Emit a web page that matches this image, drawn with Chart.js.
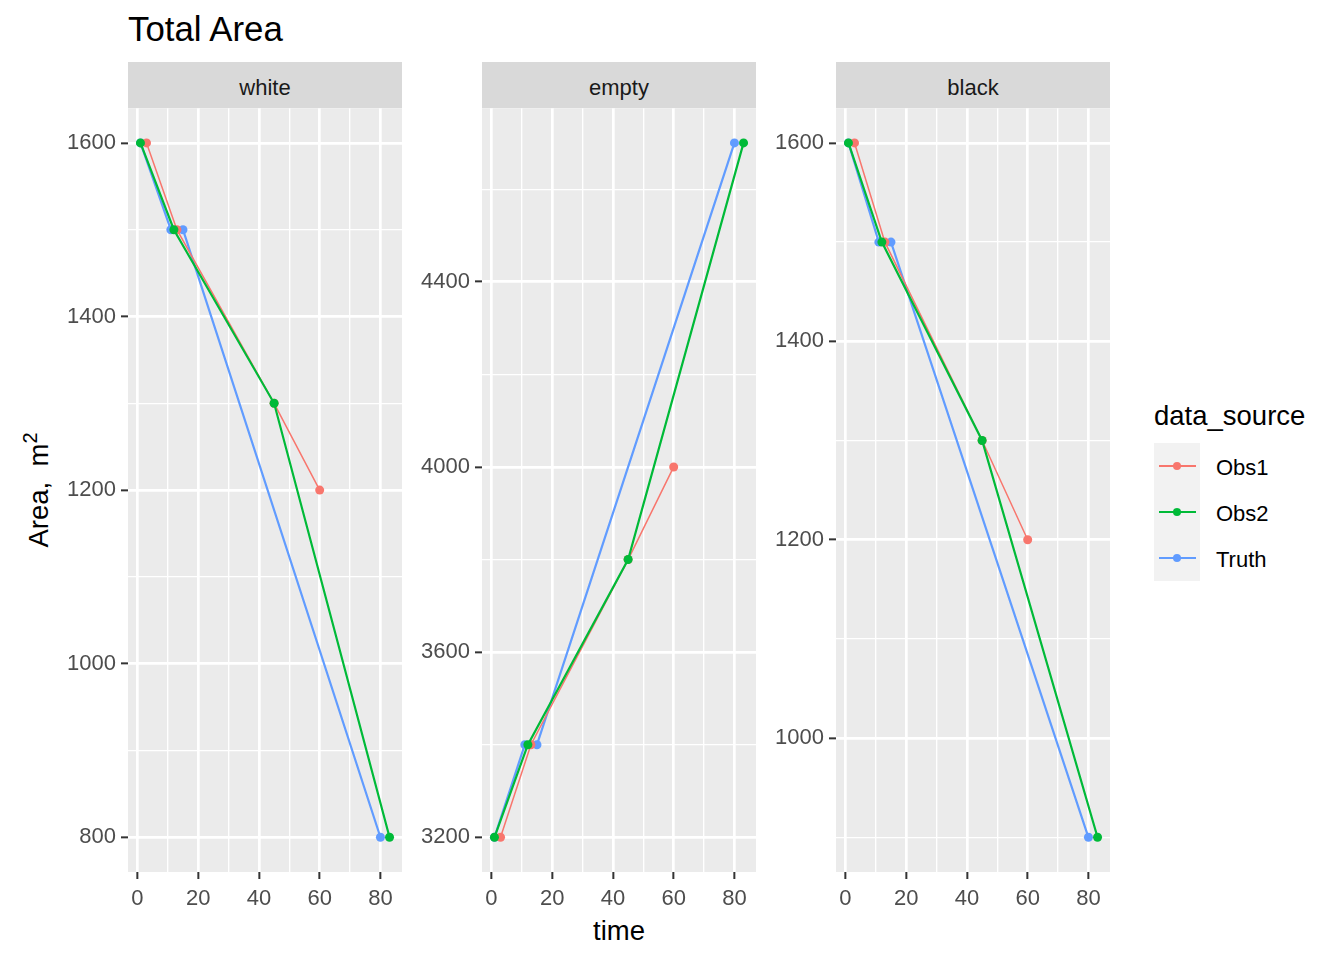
<!DOCTYPE html>
<html>
<head>
<meta charset="utf-8">
<script src="https://cdn.jsdelivr.net/npm/chart.js@4"></script>
<style>
  body { margin: 0; background: #fff; }
  #page { position: relative; width: 1344px; height: 960px; overflow: hidden;
          font-family: "Liberation Sans", Arial, sans-serif; }
  .abs { position: absolute; }
  .strip { position: absolute; top: 62px; width: 274px; height: 46px; background: #D9D9D9;
           color: #1A1A1A; font-size: 22px; line-height: 51px; text-align: center; }
  canvas { position: absolute; top: 90px; }
  .lab { position: absolute; font-size: 22px; line-height: 1; color: #000; }
</style>
</head>
<body>
<div id="page">
  <div class="abs" style="left:128px; top:12px; font-size:34.8px; line-height:1; color:#000;">Total Area</div>
  <div class="abs" style="left:36px; top:490px; font-size:27.5px; line-height:1; white-space:nowrap;
       transform: translate(-50%, -50%) rotate(-90deg);">Area,&nbsp; m<sup style="font-size:20px; vertical-align: 0.55em;">2</sup></div>
  <div class="abs" style="left:619px; top:931px; font-size:27.5px; line-height:1; transform: translate(-50%, -50%);">time</div>

  <div id="strips"></div>
  <canvas id="c0" width="350" height="827"></canvas>
  <canvas id="c1" width="350" height="827"></canvas>
  <canvas id="c2" width="350" height="827"></canvas>

  <div class="abs" style="left:1154px; top:402px; font-size:27.5px; line-height:1;">data_source</div>
  <div class="abs" style="left:1154px; top:443px; width:46px; height:138px; background:#F2F2F2;"></div>
  <div id="legend"></div>
</div>

<script>
// facets
const panels = ['white', 'empty', 'black'];
const panelLeft = [128, 482, 836];

// series
const seriesNames = ['Obs1', 'Obs2', 'Truth'];
const seriesColors = ['#F8766D', '#00BA38', '#619CFF'];

// time values of each series
const obs1Time = [3, 13, 45, 60];
const obs2Time = [1, 12, 45, 83];
const truthTime = [1, 11, 15, 80];

// area values, per facet
const whiteObs1 = [1600, 1500, 1300, 1200];
const whiteObs2 = [1600, 1500, 1300, 800];
const whiteTruth = [1600, 1500, 1500, 800];

const emptyObs1 = [3200, 3400, 3800, 4000];
const emptyObs2 = [3200, 3400, 3800, 4700];
const emptyTruth = [3200, 3400, 3400, 4700];

const blackObs1 = [1600, 1500, 1300, 1200];
const blackObs2 = [1600, 1500, 1300, 900];
const blackTruth = [1600, 1500, 1500, 900];

// ticks
const xMajor = [0, 20, 40, 60, 80];
const xMinor = [10, 30, 50, 70];
const whiteMajor = [800, 1000, 1200, 1400, 1600];
const whiteMinor = [900, 1100, 1300, 1500];
const emptyMajor = [3200, 3600, 4000, 4400];
const emptyMinor = [3400, 3800, 4200, 4600];
const blackMajor = [1000, 1200, 1400, 1600];
const blackMinor = [900, 1100, 1300, 1500];

const facetData = [
    [whiteObs1, whiteObs2, whiteTruth, whiteMajor, whiteMinor],
    [emptyObs1, emptyObs2, emptyTruth, emptyMajor, emptyMinor],
    [blackObs1, blackObs2, blackTruth, blackMajor, blackMinor]
];
const times = [obs1Time, obs2Time, truthTime];

Chart.defaults.font.family = '"Liberation Sans", Arial, sans-serif';

// ggplot style panel background
const panelBg = {
    id: 'panelBg',
    beforeDraw(chart) {
        const a = chart.chartArea;
        const ctx = chart.ctx;
        ctx.save();
        ctx.fillStyle = '#EBEBEB';
        ctx.fillRect(a.left, a.top, a.right - a.left, a.bottom - a.top);
        ctx.restore();
    }
};

// expand range by 5% like ggplot
function expand(vals) {
    const lo = Math.min(...vals), hi = Math.max(...vals);
    const pad = (hi - lo) * 0.05;
    return [lo - pad, hi + pad];
}

const xRange = expand([...obs1Time, ...obs2Time, ...truthTime]);

function axis(range, major, minor, isX) {
    const all = [...major, ...minor].sort((a, b) => a - b);
    const isMajor = c => c.tick && major.includes(c.tick.value);
    return {
        type: 'linear',
        min: range[0],
        max: range[1],
        afterBuildTicks: s => { s.ticks = all.map(v => ({ value: v })); },
        afterFit: s => {
            if (isX) s.height = 45; else s.width = 70;
        },
        border: { display: false },
        grid: {
            color: '#FFFFFF',
            lineWidth: c => isMajor(c) ? 2.7 : 1.35,
            drawTicks: true,
            tickLength: 7,
            tickWidth: 2,
            tickColor: c => isMajor(c) ? '#333333' : 'rgba(0,0,0,0)'
        },
        ticks: {
            autoSkip: false,
            maxRotation: 0,
            padding: isX ? 7 : 5,
            color: '#4D4D4D',
            font: { size: 22 },
            callback: v => major.includes(v) ? String(v) : ''
        }
    };
}

// strips
const strips = document.getElementById('strips');
panels.forEach((name, i) => {
    const d = document.createElement('div');
    d.className = 'strip';
    d.style.left = panelLeft[i] + 'px';
    d.textContent = name;
    strips.appendChild(d);
});

// panels
panels.forEach((name, i) => {
    const canvas = document.getElementById('c' + i);
    canvas.style.left = (panelLeft[i] - 70) + 'px';
    const [o1, o2, tr, major, minor] = facetData[i];
    const yRange = expand([...o1, ...o2, ...tr]);
    const values = [o1, o2, tr];
    const drawOrder = [1, 0, 2];
    const widths = [1.5, 2.2, 2.2];

    const datasets = seriesNames.map((s, k) => ({
        label: s,
        data: times[k].map((t, j) => ({ x: t, y: values[k][j] })),
        borderColor: seriesColors[k],
        backgroundColor: seriesColors[k],
        pointBackgroundColor: seriesColors[k],
        borderWidth: widths[k],
        pointRadius: 4.5,
        pointBorderWidth: 0,
        tension: 0,
        order: drawOrder[k]
    }));

    new Chart(canvas, {
        type: 'line',
        data: { datasets: datasets },
        options: {
            responsive: false,
            animation: false,
            events: [],
            layout: { padding: { top: 8, right: 6, left: 0, bottom: 0 } },
            plugins: { legend: { display: false }, tooltip: { enabled: false } },
            scales: {
                x: axis(xRange, xMajor, xMinor, true),
                y: axis(yRange, major, minor, false)
            }
        },
        plugins: [panelBg]
    });
});

// legend
const legend = document.getElementById('legend');
seriesNames.forEach((s, k) => {
    const top = 443 + k * 46;
    const key = document.createElement('div');
    key.className = 'abs';
    key.style.left = '1154px';
    key.style.top = top + 'px';
    key.innerHTML = '<svg width="46" height="46"><line x1="5" y1="23" x2="42" y2="23" stroke="' +
        seriesColors[k] + '" stroke-width="2"/><circle cx="23" cy="23" r="4" fill="' + seriesColors[k] + '"/></svg>';
    legend.appendChild(key);
    const lab = document.createElement('div');
    lab.className = 'lab';
    lab.style.left = '1216px';
    lab.style.top = (top + 25 - 11) + 'px';
    lab.textContent = s;
    legend.appendChild(lab);
});
</script>
</body>
</html>
